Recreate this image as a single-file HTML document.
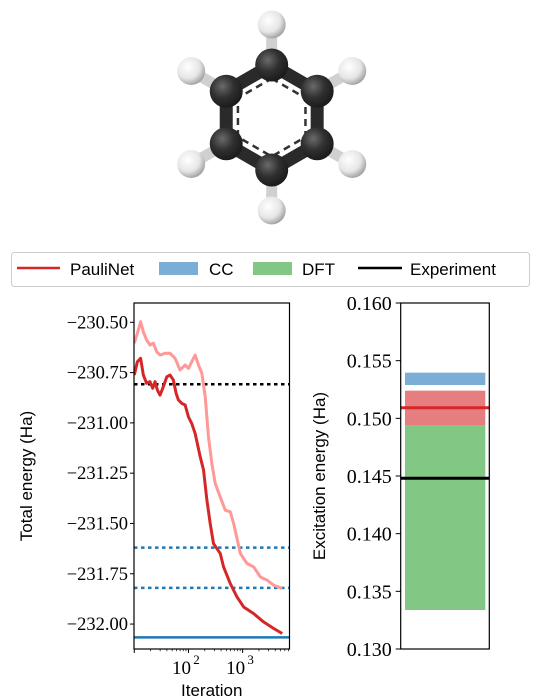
<!DOCTYPE html>
<html><head><meta charset="utf-8">
<style>
html,body{margin:0;padding:0;background:#fff;}
svg{display:block;}
.tk{font-family:"Liberation Serif","DejaVu Serif",serif;font-size:18px;fill:#000;}
.lb{font-family:"Liberation Sans","DejaVu Sans",sans-serif;font-size:17px;fill:#000;}
</style></head>
<body>
<svg id="fig" width="543" height="697" viewBox="0 0 543 697" xmlns="http://www.w3.org/2000/svg">
<defs>
<radialGradient id="gc" cx="0.38" cy="0.35" r="0.7"><stop offset="0" stop-color="#6a6a6a"/><stop offset="0.5" stop-color="#303030"/><stop offset="1" stop-color="#181818"/></radialGradient>
<radialGradient id="gh" cx="0.38" cy="0.35" r="0.7"><stop offset="0" stop-color="#ffffff"/><stop offset="0.6" stop-color="#e6e6e6"/><stop offset="1" stop-color="#9a9a9a"/></radialGradient>
</defs>
<g id="mol"></g>
<g id="legend">
<rect x="11.5" y="252.5" width="518" height="34" rx="3" fill="#fff" stroke="#ccc" stroke-width="1"/>
<g><line x1="17" y1="268" x2="60" y2="268" stroke="#d62728" stroke-width="2.5"/><text class="lb" x="70" y="275">PauliNet</text></g>
<g><rect x="159" y="262" width="39" height="13" fill="#7aaed6"/><text class="lb" x="209" y="275">CC</text></g>
<g><rect x="253" y="262" width="39" height="13" fill="#82c783"/><text class="lb" x="302" y="275">DFT</text></g>
<g><line x1="358" y1="268" x2="402" y2="268" stroke="#000" stroke-width="2.5"/><text class="lb" x="410" y="275">Experiment</text></g>
</g>
<g id="left"></g>
<g id="right"></g>
</svg>
<script>
// ---- data: left plot ----
const darkIter = [10,11.4,13.1,14.7,16.9,19.5,21.9,24.2,26.7,29.9,34.4,39.8,45.8,52.7,59.2,65.3,75.3,86.9,100,115,133,165,190,219,252,290,386,445,592,787,1045,1600,2450,3750,5370];
const darkE = [-230.762,-230.696,-230.679,-230.762,-230.803,-230.795,-230.828,-230.795,-230.837,-230.862,-230.820,-230.771,-230.762,-230.787,-230.853,-230.886,-230.903,-230.911,-230.970,-231.003,-231.053,-231.169,-231.235,-231.384,-231.500,-231.600,-231.649,-231.716,-231.799,-231.865,-231.915,-231.948,-231.990,-232.022,-232.047];
const lightIter = [10,11.4,13.1,14.7,16.9,19.5,22.5,25.9,29.9,37,45.8,56.6,70.1,86.9,100,115,133,153,177,204,234,270,312,386,478,592,682,906,1205,1600,2128,2825,3750,5370];
const lightE = [-230.604,-230.555,-230.497,-230.547,-230.588,-230.613,-230.604,-230.646,-230.663,-230.654,-230.654,-230.679,-230.737,-230.712,-230.729,-230.696,-230.663,-230.712,-230.754,-230.870,-231.069,-231.201,-231.301,-231.368,-231.434,-231.442,-231.500,-231.649,-231.699,-231.716,-231.766,-231.782,-231.807,-231.823];
const experimentLevel = -230.808;
const ccDotted = [-231.62, -231.82];
const ccSolid = -232.066;
const leftYTicks = [-230.50,-230.75,-231.00,-231.25,-231.50,-231.75,-232.00];
const leftYTickLabels = ["\u2212230.50","\u2212230.75","\u2212231.00","\u2212231.25","\u2212231.50","\u2212231.75","\u2212232.00"];
const leftXTicks = [100,1000];
const leftXTickExp = ["2","3"];
// ---- data: right plot ----
const ccBand = [0.15289, 0.15396];
const pauliBand = [0.14942, 0.1524];
const pauliLine = 0.15092;
const dftBand = [0.13338, 0.14942];
const expLine = 0.1448;
const rightYTicks = [0.130,0.135,0.140,0.145,0.150,0.155,0.160];
const rightYTickLabels = ["0.130","0.135","0.140","0.145","0.150","0.155","0.160"];

const NS="http://www.w3.org/2000/svg";
function mk(tag,attrs,parent){const e=document.createElementNS(NS,tag);for(const k in attrs)e.setAttribute(k,attrs[k]);parent.appendChild(e);return e;}

// molecule
(function(){
  const g=document.getElementById('mol');
  const cx=271.7, cy=117.5, R=52.5, RH=93;
  const C=[],H=[];
  for(let i=0;i<6;i++){const a=-Math.PI/2+i*Math.PI/3;C.push([cx+R*Math.cos(a),cy+R*Math.sin(a)]);H.push([cx+RH*Math.cos(a),cy+RH*Math.sin(a)]);}
  for(let i=0;i<6;i++){
    const b=mk('line',{x1:C[i][0],y1:C[i][1],x2:H[i][0],y2:H[i][1],stroke:'#d0d0d0','stroke-width':11},g);
    
    
  }
  for(let i=0;i<6;i++){const j=(i+1)%6;
    const b=mk('line',{x1:C[i][0],y1:C[i][1],x2:C[j][0],y2:C[j][1],stroke:'#2a2a2a','stroke-width':13},g);
    
    
  }
  const r2=39;
  let pts=[];for(let i=0;i<6;i++){const a=-Math.PI/2+i*Math.PI/3;pts.push((cx+r2*Math.cos(a))+','+(cy+r2*Math.sin(a)));}
  const ring=mk('polygon',{points:pts.join(' '),fill:'none',stroke:'#333','stroke-width':2.5,'stroke-dasharray':'7,5'},g);
  
  
  H.forEach(p=>{const c=mk('circle',{cx:p[0],cy:p[1],r:14,fill:'url(#gh)'},g);
    
    });
  C.forEach(p=>{const c=mk('circle',{cx:p[0],cy:p[1],r:16.5,fill:'url(#gc)'},g);
    
    });
})();

// left plot
(function(){
  const g=document.getElementById('left');
  const L=134,Rr=289.5,T=303,B=649;
  const x0=Math.log10(10)-0.005, x1=3.865;
  const y0=-232.124, y1=-230.404;
  const sx=v=>L+(Math.log10(v)-x0)/(x1-x0)*(Rr-L);
  const sy=v=>B-(v-y0)/(y1-y0)*(B-T);
  const cp=mk('clipPath',{id:'lc'},g);mk('rect',{x:L,y:T,width:Rr-L,height:B-T},cp);
  const pg=mk('g',{'clip-path':'url(#lc)'},g);
  const h1=mk('line',{x1:L,x2:Rr,y1:sy(experimentLevel),y2:sy(experimentLevel),stroke:'#000','stroke-width':2.5,'stroke-dasharray':'3.5,3.5'},pg);
  
  
  ccDotted.forEach(v=>{const l=mk('line',{x1:L,x2:Rr,y1:sy(v),y2:sy(v),stroke:'#1f77b4','stroke-width':2.5,'stroke-dasharray':'3.5,3.5'},pg);
    
    });
  const hs=mk('line',{x1:L,x2:Rr,y1:sy(ccSolid),y2:sy(ccSolid),stroke:'#1f77b4','stroke-width':2.5},pg);
  
  
  const pl=mk('polyline',{points:lightIter.map((v,i)=>sx(v)+','+sy(lightE[i])).join(' '),fill:'none',stroke:'#ff9896','stroke-width':3,'stroke-linejoin':'round'},pg);
  
  
  const pd=mk('polyline',{points:darkIter.map((v,i)=>sx(v)+','+sy(darkE[i])).join(' '),fill:'none',stroke:'#d62728','stroke-width':3,'stroke-linejoin':'round'},pg);
  
  
  const fr=mk('rect',{x:L,y:T,width:Rr-L,height:B-T,fill:'none',stroke:'#000','stroke-width':1.2},g);
  
  
  leftYTicks.forEach((v,i)=>{const y=sy(v);
    mk('line',{x1:L-4,x2:L,y1:y,y2:y,stroke:'#000','stroke-width':1},g);
    const t=mk('text',{x:L-6,y:y+6,'text-anchor':'end',class:'tk'},g);t.style.fontSize='18.5px';t.textContent=leftYTickLabels[i];
    
    });
  for(let d=1;d<=3;d++)for(let m=1;m<=9;m++){const v=m*Math.pow(10,d);if(Math.log10(v)<x0||Math.log10(v)>x1)continue;
    const x=sx(v);const maj=(m===1);mk('line',{x1:x,x2:x,y1:B,y2:B+(maj?4:2.2),stroke:'#000','stroke-width':maj?1:0.7},g);}
  leftXTicks.forEach((v,i)=>{const x=sx(v);
    const t=mk('text',{x:x-7,y:B+25,'text-anchor':'middle',class:'tk'},g);t.style.fontSize='19px';t.textContent='10';
    
    
    const e=mk('text',{x:x+8,y:B+15,'text-anchor':'middle',class:'tk'},g);e.style.fontSize='13px';e.textContent=leftXTickExp[i];
    
    });
  const xt=mk('text',{x:(L+Rr)/2,y:B+47,'text-anchor':'middle',class:'lb'},g);xt.textContent='Iteration';
  
  
  const yt=mk('text',{x:0,y:0,'text-anchor':'middle',class:'lb',transform:'translate(32,'+((T+B)/2)+') rotate(-90)'},g);yt.textContent='Total energy (Ha)';
  
  
})();

// right plot
(function(){
  const g=document.getElementById('right');
  const L=400.7,Rr=489.3,T=303,B=649;
  const y0=0.130,y1=0.160;
  const sy=v=>B-(v-y0)/(y1-y0)*(B-T);
  const bx0=405,bx1=485.3;
  function band(b,color,name){const r=mk('rect',{x:bx0,y:sy(b[1]),width:bx1-bx0,height:sy(b[0])-sy(b[1]),fill:color},g);
    
    }
  band(dftBand,'#82c783','dft-band');
  band(ccBand,'#7aaed6','cc-band');
  const pr=mk('rect',{x:bx0,y:sy(pauliBand[1]),width:bx1-bx0,height:sy(pauliBand[0])-sy(pauliBand[1]),fill:'#d62728','fill-opacity':0.6},g);
  
  
  const l1=mk('line',{x1:L,x2:Rr,y1:sy(pauliLine),y2:sy(pauliLine),stroke:'#d62728','stroke-width':3},g);
  
  
  const l2=mk('line',{x1:L,x2:Rr,y1:sy(expLine),y2:sy(expLine),stroke:'#000','stroke-width':3},g);
  
  
  const fr=mk('rect',{x:L,y:T,width:Rr-L,height:B-T,fill:'none',stroke:'#000','stroke-width':1.2},g);
  
  
  rightYTicks.forEach((v,i)=>{const y=sy(v);
    mk('line',{x1:L-5,x2:L,y1:y,y2:y,stroke:'#000','stroke-width':1},g);
    const t=mk('text',{x:L-9,y:y+7,'text-anchor':'end',class:'tk'},g);t.style.fontSize='20px';t.textContent=rightYTickLabels[i];
    
    });
  const yt=mk('text',{x:0,y:0,'text-anchor':'middle',class:'lb',transform:'translate(325,'+((T+B)/2)+') rotate(-90)'},g);yt.textContent='Excitation energy (Ha)';
  
  
})();
</script>
</body></html>
